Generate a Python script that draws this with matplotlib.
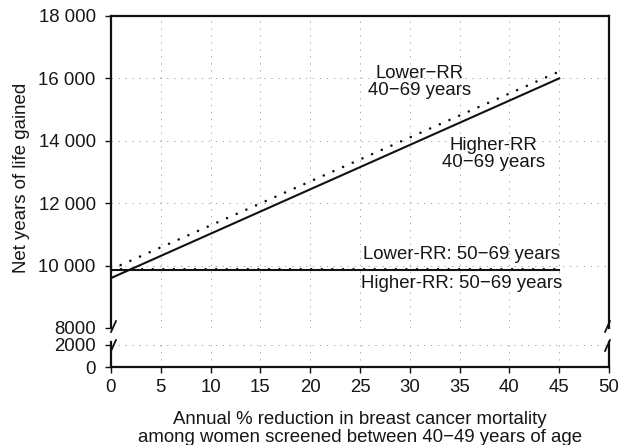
import matplotlib
matplotlib.use("Agg")
import matplotlib.pyplot as plt

plt.rcParams['font.family'] = ['Liberation Sans', 'DejaVu Sans']
plt.rcParams['lines.scale_dashes'] = False

# data
x_ends = [0, 45]
lower_rr_4069 = [9880, 16220]
higher_rr_4069 = [9600, 16000]
lower_rr_5069 = [9900, 9900]
higher_rr_5069 = [9850, 9850]

x_ticks = [0, 5, 10, 15, 20, 25, 30, 35, 40, 45, 50]
top_yticks = [8000, 10000, 12000, 14000, 16000, 18000]
top_ylabels = ['8000', '10 000', '12 000', '14 000', '16 000', '18 000']
bot_yticks = [0, 2000]
bot_ylabels = ['0', '2000']

FS = 13.4
TXT = '#161616'
DOTS = (0, (0.01, 7.6))
GRID = dict(color='0.62', linestyle=(0, (1, 4)), linewidth=0.6)

fig = plt.figure(figsize=(6.18, 4.45), dpi=100)
W, H = 618, 445
ax = fig.add_axes([111 / W, 1 - 328 / H, 498 / W, 312 / H])
axb = fig.add_axes([111 / W, 1 - 367 / H, 498 / W, 25 / H])

ax.plot(x_ends, higher_rr_4069, color='#111111', lw=1.5)
ax.plot(x_ends, lower_rr_4069, color='#111111', lw=1.9, ls=DOTS,
        dash_capstyle='round')
ax.plot(x_ends, higher_rr_5069, color='#111111', lw=1.5)
ax.plot([1, 45], lower_rr_5069, color='#111111', lw=1.7, ls=DOTS,
        dash_capstyle='round')

for a in (ax, axb):
    a.set_xlim(0, 50)
    a.set_xticks(x_ticks)
    a.grid(True, **GRID)
    a.set_axisbelow(True)
    for s in a.spines.values():
        s.set_linewidth(1.6)
        s.set_color('#111111')
    a.tick_params(direction='out', length=4, width=1, color='#111111',
                  labelsize=FS, labelcolor=TXT)
    a.tick_params(axis='y', pad=7)
    a.tick_params(axis='x', pad=5)

ax.set_ylim(8000, 18000)
ax.set_yticks(top_yticks)
ax.set_yticklabels(top_ylabels)
ax.spines['bottom'].set_visible(False)
ax.tick_params(axis='x', bottom=False, labelbottom=False)

axb.set_ylim(0, 2270)
axb.set_yticks(bot_yticks)
axb.set_yticklabels(bot_ylabels)
axb.spines['top'].set_visible(False)
axb.set_xticklabels([str(v) for v in x_ticks])

# axis break marks
brk = dict(marker=[(-0.45, -1), (0.45, 1)], markersize=9, linestyle='none',
           color='#111111', mec='#111111', mew=1.3, clip_on=False)
ax.plot([0.004, 0.996], [0.005, 0.005], transform=ax.transAxes, **brk)
axb.plot([0.004, 0.996], [0.9, 0.9], transform=axb.transAxes, **brk)

# annotations
ax.text(31, 15900, 'Lower\u2212RR\n40\u221269 years', ha='center', va='center',
        fontsize=FS, color=TXT, linespacing=1.0)
ax.text(38.4, 13580, 'Higher-RR\n40\u221269 years', ha='center', va='center',
        fontsize=FS, color=TXT, linespacing=1.0)
ax.text(35.2, 10340, 'Lower-RR: 50\u221269 years', ha='center', va='center',
        fontsize=FS, color=TXT)
ax.text(35.2, 9440, 'Higher-RR: 50\u221269 years', ha='center', va='center',
        fontsize=FS, color=TXT)

fig.text(22 / W, 1 - 178 / H, 'Net years of life gained', rotation=90,
         ha='center', va='center', fontsize=FS, color=TXT)
fig.text(360 / W, 1 - 420 / H, 'Annual % reduction in breast cancer mortality',
         ha='center', va='center', fontsize=FS, color=TXT)
fig.text(360 / W, 1 - 437 / H,
         'among women screened between 40\u221249 years of age',
         ha='center', va='center', fontsize=FS, color=TXT)

fig.savefig('out.png', dpi=100)
